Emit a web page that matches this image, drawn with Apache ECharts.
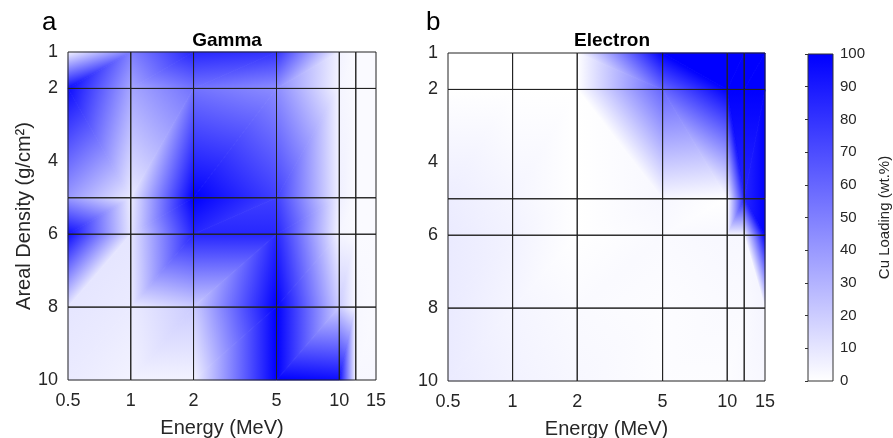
<!DOCTYPE html>
<html>
<head>
<meta charset="utf-8">
<script src="https://cdn.jsdelivr.net/npm/echarts@6/dist/echarts.min.js"></script>
<style>
html, body { margin: 0; padding: 0; background: #fff; }
#chart { width: 893px; height: 438px; }
</style>
</head>
<body>
<div id="chart"></div>
<script>
// mesh nodes
var energies = [0.5, 1, 2, 5, 10, 12, 15];
var densities = [1, 2, 5, 6, 8, 10];
var energyTicks = [0.5, 1, 2, 5, 10, 15];
var densityTicks = [1, 2, 4, 6, 8, 10];
var loadingRange = [0, 100];

// Cu loading (wt.%) at each node: one row per density, one column per energy
var gammaLoading = [
  [5, 50, 85, 80, 5, 2, 2],
  [95, 35, 55, 45, 4, 2, 2],
  [40, 8, 100, 75, 6, 2, 2],
  [95, 10, 85, 85, 4, 2, 2],
  [10, 8, 20, 100, 20, 3, 2],
  [8, 5, 5, 100, 95, 3, 3]
];
var electronLoading = [
  [0, 0, 0, 100, 100, 100, 100],
  [0, 0, 0, 60, 100, 100, 100],
  [7, 4, 0, 3, 0, 85, 100],
  [8, 5, 0, 2, 3, 3, 100],
  [8, 4, 2, 1, 2, 2, 4],
  [8, 5, 3, 1, 1, 2, 3]
];

// triangulation of each mesh cell, one row per density interval:
// r = rising diagonal (low energy/high density to high energy/low density), f = falling
var gammaDiagonals = ['rrrrrr', 'frrrrr', 'rrrrrr', 'rrrrrr', 'rrrrrr'];
var electronDiagonals = ['rrffrr', 'rrfffr', 'rrrrrf', 'rrrrrf', 'rrrrrr'];

var textColor = '#262626';
var font = 'Liberation Sans, Arial, sans-serif';
var lowColor = '#ffffff', highColor = '#0000ff';

function cellData(loading, diagonals) {
  var out = [];
  for (var j = 0; j < densities.length - 1; j++) {
    for (var i = 0; i < energies.length - 1; i++) {
      out.push([energies[i], energies[i + 1], densities[j], densities[j + 1],
        loading[j][i], loading[j][i + 1], loading[j + 1][i], loading[j + 1][i + 1],
        diagonals[j].charAt(i) === 'f' ? 1 : 0]);
    }
  }
  return out;
}

function colorOf(v) {
  var t = Math.max(0, Math.min(1, v / 100));
  var c = Math.round(255 * (1 - t));
  return 'rgb(' + c + ',' + c + ',255)';
}

// linear shading over a triangle = a linear gradient along the value gradient
function shade(p, v) {
  var x1 = p[1][0] - p[0][0], y1 = p[1][1] - p[0][1];
  var x2 = p[2][0] - p[0][0], y2 = p[2][1] - p[0][1];
  var d1 = v[1] - v[0], d2 = v[2] - v[0];
  var det = x1 * y2 - y1 * x2;
  if (Math.abs(det) < 1e-9) return colorOf(v[0]);
  var a = (d1 * y2 - y1 * d2) / det;
  var b = (x1 * d2 - d1 * x2) / det;
  var g2 = a * a + b * b;
  if (g2 < 1e-9) return colorOf(v[0]);
  var ax = p[0][0] - a * v[0] / g2, ay = p[0][1] - b * v[0] / g2;
  return {
    type: 'linear', global: true,
    x: ax, y: ay, x2: ax + a * 100 / g2, y2: ay + b * 100 / g2,
    colorStops: [{ offset: 0, color: lowColor }, { offset: 1, color: highColor }]
  };
}

function tri(p, v) {
  return {
    type: 'polygon', shape: { points: p },
    style: { fill: shade(p, v), stroke: shade(p, v), lineWidth: 0.8 }
  };
}

function renderCell(params, api) {
  var e0 = api.value(0), e1 = api.value(1), d0 = api.value(2), d1 = api.value(3);
  var p00 = api.coord([e0, d0]), p10 = api.coord([e1, d0]);
  var p01 = api.coord([e0, d1]), p11 = api.coord([e1, d1]);
  var v00 = api.value(4), v10 = api.value(5), v01 = api.value(6), v11 = api.value(7);
  var kids = api.value(8) === 1
    ? [tri([p00, p10, p11], [v00, v10, v11]), tri([p00, p11, p01], [v00, v11, v01])]
    : [tri([p00, p10, p01], [v00, v10, v01]), tri([p10, p11, p01], [v10, v11, v01])];
  return { type: 'group', children: kids };
}

function renderMesh(params, api) {
  var a = api.coord([api.value(0), api.value(2)]);
  var b = api.coord([api.value(1), api.value(3)]);
  return {
    type: 'rect',
    shape: { x: a[0], y: a[1], width: b[0] - a[0], height: b[1] - a[1] },
    style: { fill: 'none', stroke: '#222', lineWidth: 1 }
  };
}

function renderBar(params, api) {
  var top = api.coord([0, api.value(1)]);
  var bot = api.coord([1, api.value(0)]);
  return {
    type: 'rect',
    shape: { x: top[0], y: top[1], width: bot[0] - top[0], height: bot[1] - top[1] },
    style: {
      fill: { type: 'linear', global: true, x: 0, y: bot[1], x2: 0, y2: top[1],
        colorStops: [{ offset: 0, color: lowColor }, { offset: 1, color: highColor }] },
      stroke: '#333', lineWidth: 1
    }
  };
}

function energyAxis(idx) {
  return {
    type: 'log', logBase: 10, gridIndex: idx, min: 0.5, max: 15,
    name: 'Energy (MeV)', nameLocation: 'middle', nameGap: 38,
    nameTextStyle: { fontSize: 20, color: textColor, fontFamily: font },
    axisLine: { show: false }, axisTick: { show: false }, splitLine: { show: false },
    axisLabel: { customValues: energyTicks, fontSize: 18, color: textColor, margin: 12, fontFamily: font,
      formatter: function (v) { return String(v); } }
  };
}

function densityAxis(idx, withName) {
  return {
    type: 'value', gridIndex: idx, min: 1, max: 10, inverse: true,
    name: withName ? 'Areal Density (g/cm²)' : '', nameLocation: 'middle', nameGap: 33,
    nameTextStyle: { fontSize: 20, color: textColor, fontFamily: font },
    axisLine: { show: false }, axisTick: { show: false }, splitLine: { show: false },
    axisLabel: { customValues: densityTicks, fontSize: 18, color: textColor, margin: 10, fontFamily: font }
  };
}

var option = {
  animation: false,
  backgroundColor: '#fff',
  title: [
    { text: 'Gamma', left: 222, top: 26, textAlign: 'center',
      textStyle: { fontSize: 19, fontWeight: 'bold', color: '#000', fontFamily: font } },
    { text: 'Electron', left: 607, top: 26, textAlign: 'center',
      textStyle: { fontSize: 19, fontWeight: 'bold', color: '#000', fontFamily: font } },
    { text: 'a', left: 37, top: 5, textStyle: { fontSize: 26, fontWeight: 'normal', color: '#000', fontFamily: font } },
    { text: 'b', left: 421, top: 5, textStyle: { fontSize: 26, fontWeight: 'normal', color: '#000', fontFamily: font } }
  ],
  grid: [
    { left: 68, top: 52, width: 308, height: 328, outerBoundsMode: 'none' },
    { left: 448, top: 53, width: 317, height: 328, outerBoundsMode: 'none' },
    { left: 808, top: 54, width: 25, height: 327, outerBoundsMode: 'none' }
  ],
  xAxis: [
    energyAxis(0),
    energyAxis(1),
    { type: 'value', gridIndex: 2, min: 0, max: 1, show: false }
  ],
  yAxis: [
    densityAxis(0, true),
    densityAxis(1, false),
    {
      type: 'value', gridIndex: 2, position: 'right', min: loadingRange[0], max: loadingRange[1], interval: 10,
      name: 'Cu Loading (wt.%)', nameLocation: 'middle', nameGap: 44, nameRotate: 90,
      nameTextStyle: { fontSize: 15, color: textColor, fontFamily: font },
      axisLine: { show: false }, splitLine: { show: false },
      axisTick: { show: true, inside: true, length: 3, lineStyle: { color: '#333' } },
      axisLabel: { fontSize: 15, color: textColor, margin: 7, fontFamily: font }
    }
  ],
  series: [
    { type: 'custom', name: 'Gamma', xAxisIndex: 0, yAxisIndex: 0, renderItem: renderCell,
      encode: { x: [0, 1], y: [2, 3] }, data: cellData(gammaLoading, gammaDiagonals), z: 1 },
    { type: 'custom', name: 'Electron', xAxisIndex: 1, yAxisIndex: 1, renderItem: renderCell,
      encode: { x: [0, 1], y: [2, 3] }, data: cellData(electronLoading, electronDiagonals), z: 1 },
    { type: 'custom', xAxisIndex: 0, yAxisIndex: 0, renderItem: renderMesh,
      encode: { x: [0, 1], y: [2, 3] }, data: cellData(gammaLoading, gammaDiagonals), z: 3, silent: true },
    { type: 'custom', xAxisIndex: 1, yAxisIndex: 1, renderItem: renderMesh,
      encode: { x: [0, 1], y: [2, 3] }, data: cellData(electronLoading, electronDiagonals), z: 3, silent: true },
    { type: 'custom', xAxisIndex: 2, yAxisIndex: 2, renderItem: renderBar,
      encode: { y: [0, 1] }, data: [loadingRange], z: 1, silent: true }
  ]
};

var chart = echarts.init(document.getElementById('chart'));
chart.setOption(option);
</script>
</body>
</html>
